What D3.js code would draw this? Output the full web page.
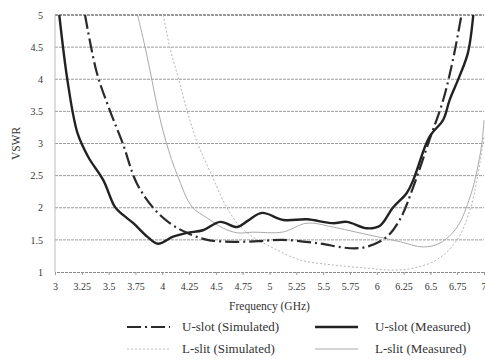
<!DOCTYPE html>
<html>
<head>
<meta charset="utf-8">
<script src="https://cdn.jsdelivr.net/npm/d3@7"></script>
<style>
  body { margin: 0; background: #fff; }
  svg text { font-family: "Liberation Serif", "DejaVu Serif", "Noto Serif", serif; }
</style>
</head>
<body>
<div id="chart"></div>
<script>
// frequency ticks and VSWR ticks
var xTicks = [3, 3.25, 3.5, 3.75, 4, 4.25, 4.5, 4.75, 5, 5.25, 5.5, 5.75, 6, 6.25, 6.5, 6.75, 7];
var yTicks = [1, 1.5, 2, 2.5, 3, 3.5, 4, 4.5, 5];

// U-slot (Measured)
var uMeasFreq = [3.04, 3.12, 3.21, 3.31, 3.45, 3.56, 3.64, 3.73, 3.86, 3.96, 4.1, 4.23, 4.38, 4.54, 4.7, 4.8, 4.93, 5.13, 5.35, 5.59, 5.72, 5.91, 6.03, 6.15, 6.28, 6.34, 6.49, 6.62, 6.68, 6.77, 6.85, 6.9];
var uMeasVswr = [5.0, 3.94, 3.16, 2.79, 2.43, 2.01, 1.88, 1.76, 1.55, 1.44, 1.55, 1.61, 1.65, 1.78, 1.7, 1.8, 1.92, 1.81, 1.82, 1.76, 1.78, 1.68, 1.72, 2.0, 2.23, 2.43, 3.1, 3.37, 3.68, 4.04, 4.41, 5.0];

// U-slot (Simulated)
var uSimFreq = [3.28, 3.39, 3.51, 3.63, 3.76, 3.91, 4.07, 4.23, 4.42, 4.66, 4.9, 5.12, 5.44, 5.75, 5.9, 6.09, 6.22, 6.34, 6.49, 6.62, 6.71, 6.79];
var uSimVswr = [5.0, 4.1, 3.52, 3.01, 2.39, 2.01, 1.76, 1.61, 1.5, 1.47, 1.48, 1.5, 1.45, 1.37, 1.39, 1.54, 1.83, 2.32, 3.05, 3.68, 4.3, 5.0];

// L-slit (Simulated)
var lSimFreq = [4.01, 4.07, 4.15, 4.23, 4.33, 4.46, 4.6, 4.72, 4.85, 4.98, 5.28, 5.59, 5.91, 6.15, 6.34, 6.56, 6.75, 6.87, 6.94, 6.99, 7.0];
var lSimVswr = [5.0, 4.5, 4.02, 3.52, 3.0, 2.51, 2.01, 1.72, 1.54, 1.42, 1.19, 1.11, 1.06, 1.03, 1.06, 1.19, 1.5, 1.97, 2.48, 3.0, 3.1];

// L-slit (Measured)
var lMeasFreq = [3.77, 3.84, 3.9, 3.96, 4.04, 4.14, 4.28, 4.42, 4.57, 4.7, 4.85, 5.12, 5.35, 5.59, 5.81, 6.03, 6.22, 6.43, 6.59, 6.75, 6.87, 6.93, 6.98, 7.0];
var lMeasVswr = [5.0, 4.5, 4.02, 3.52, 3.0, 2.51, 2.01, 1.84, 1.68, 1.61, 1.62, 1.62, 1.76, 1.7, 1.62, 1.54, 1.47, 1.39, 1.45, 1.7, 2.17, 2.54, 3.0, 3.36];

var seriesNames = ["U-slot (Simulated)", "U-slot (Measured)", "L-slit (Simulated)", "L-slit (Measured)"];

var width = 485, height = 363;
var margin = { top: 15, left: 55, right: 1, bottom: 91 };
var w = width - margin.left - margin.right, h = height - margin.top - margin.bottom;

var x = d3.scaleLinear().domain([3, 7]).range([0, w]);
var y = d3.scaleLinear().domain([1, 5]).range([h, 0]);

var svg = d3.select("#chart").append("svg")
  .attr("width", width).attr("height", height);
svg.append("defs").append("clipPath").attr("id", "clip")
  .append("rect").attr("x", 0).attr("y", -1).attr("width", w + 2).attr("height", h + 2);

var g = svg.append("g").attr("transform", "translate(" + margin.left + "," + margin.top + ")");

// gridlines
g.selectAll(".grid").data(yTicks.slice(1)).enter().append("line")
  .attr("class", "grid")
  .attr("x1", 0).attr("x2", w)
  .attr("y1", function (d) { return y(d); }).attr("y2", function (d) { return y(d); })
  .style("stroke", function (d) { return d == 5 ? "#777" : "#9a9a9a"; })
  .style("stroke-width", function (d) { return d == 5 ? 1.4 : 1; })
  .style("stroke-dasharray", "3,1");

// left axis line
g.append("line").attr("x1", 0).attr("x2", 0).attr("y1", 0).attr("y2", h)
  .style("stroke", "#bbb").style("stroke-width", 1);

// bottom axis
var xAxis = d3.axisBottom(x).tickValues(xTicks).tickSize(3).tickFormat(function (d) { return d; });
var xg = g.append("g").attr("transform", "translate(0," + h + ")").call(xAxis);
xg.select(".domain").style("stroke", "#888").style("stroke-dasharray", "3,1");
xg.selectAll(".tick line").style("stroke", "#999");
xg.selectAll("text").attr("dy", "1.2em").style("font-size", "10px").style("fill", "#333")
  .style("text-anchor", function (d) { return d == 7 ? "end" : "middle"; })
  .attr("dx", function (d) { return d == 7 ? 2 : 0; });

// left axis labels
var yAxis = d3.axisLeft(y).tickValues(yTicks).tickSize(0).tickPadding(12).tickFormat(function (d) { return d; });
var yg = g.append("g").call(yAxis);
yg.select(".domain").remove();
yg.selectAll("text").style("font-size", "10px").style("fill", "#333");

// axis titles
svg.append("text").attr("transform", "translate(20," + (margin.top + h / 2) + ") rotate(-90)")
  .style("text-anchor", "middle").style("font-size", "11.5px").style("fill", "#333").text("VSWR");
svg.append("text").attr("x", margin.left + x(5)).attr("y", 310)
  .style("text-anchor", "middle").style("font-size", "11.5px").style("fill", "#333").text("Frequency (GHz)");

var line = d3.line()
  .x(function (d) { return x(d[0]); })
  .y(function (d) { return y(d[1]); })
  .curve(d3.curveCatmullRom.alpha(0.5));

var styles = [
  { color: "#2a2a2a", width: 2.2, dash: "14,4,2,4" },
  { color: "#222", width: 2.4, dash: null },
  { color: "#b5b5b5", width: 1, dash: "2,2" },
  { color: "#aaa", width: 1, dash: null }
];
var series = [
  d3.zip(uSimFreq, uSimVswr),
  d3.zip(uMeasFreq, uMeasVswr),
  d3.zip(lSimFreq, lSimVswr),
  d3.zip(lMeasFreq, lMeasVswr)
];
var plotOrder = [2, 3, 0, 1];
var lines = g.append("g").attr("clip-path", "url(#clip)");
plotOrder.forEach(function (i) {
  lines.append("path").datum(series[i])
    .attr("d", line)
    .style("fill", "none")
    .style("stroke", styles[i].color)
    .style("stroke-width", styles[i].width)
    .style("stroke-dasharray", styles[i].dash)
    .style("stroke-linejoin", "round");
});

// legend
var legX = [127, 315], legTextX = [182, 375], legY = [327, 349];
seriesNames.forEach(function (name, i) {
  var col = i % 2, row = Math.floor(i / 2);
  svg.append("line")
    .attr("x1", legX[col]).attr("x2", legX[col] + 43)
    .attr("y1", legY[row]).attr("y2", legY[row])
    .style("stroke", styles[i].color)
    .style("stroke-width", styles[i].width)
    .style("stroke-dasharray", styles[i].dash);
  svg.append("text").attr("x", legTextX[col]).attr("y", legY[row] + 4)
    .style("font-size", "13px").style("fill", "#333").text(name);
});
</script>
</body>
</html>
